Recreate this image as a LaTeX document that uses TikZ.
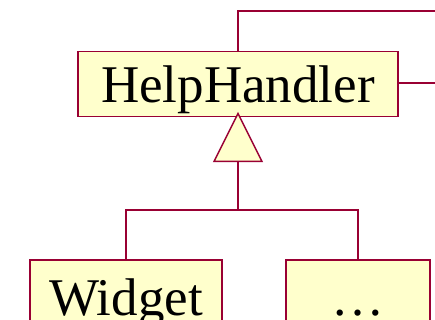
\documentclass[tikz,border=0pt]{standalone}
\usepackage{fontspec}
\setmainfont{Liberation Serif}
\usetikzlibrary{shapes.geometric}
\definecolor{edge}{RGB}{153,0,51}
\definecolor{boxfill}{RGB}{255,255,204}
\tikzset{
  cls/.style={draw=edge, fill=boxfill, line width=1.5pt, inner xsep=0pt, inner ysep=0pt, font=\fontsize{53}{56}\selectfont},
  conn/.style={draw=edge, line width=1.5pt},
}
\begin{document}
\begin{tikzpicture}[x=1pt,y=-1pt]
\useasboundingbox (0,0) rectangle (435,320);
\clip (0,0) rectangle (435,320);
\node[cls, minimum width=320pt, text height=51pt, text depth=14pt, anchor=north] (hh) at (238,51) {HelpHandler};
\node[cls, minimum width=192pt, text height=56pt, text depth=40pt, anchor=north] (widget) at (126,259) {Widget};
\node[cls, minimum width=144pt, text height=56pt, text depth=40pt, anchor=north] (more) at (358,259) {…};
\node[draw=edge, fill=boxfill, line width=1.5pt, isosceles triangle, isosceles triangle stretches, shape border rotate=90, minimum width=48pt, minimum height=48pt, inner sep=0pt, anchor=apex] (tri) at ([yshift=6pt]hh.south) {};
\coordinate (top) at (435,11);
\coordinate (right) at (435,83);
\coordinate (join) at (238,210);
\draw[conn] (hh.north) -- (hh.north |- top) -- (top);
\draw[conn] (hh.east |- right) -- (right);
\draw[conn] (tri.south) -- (join) -| (widget.north);
\draw[conn] (join) -| (more.north);
\end{tikzpicture}
\end{document}
